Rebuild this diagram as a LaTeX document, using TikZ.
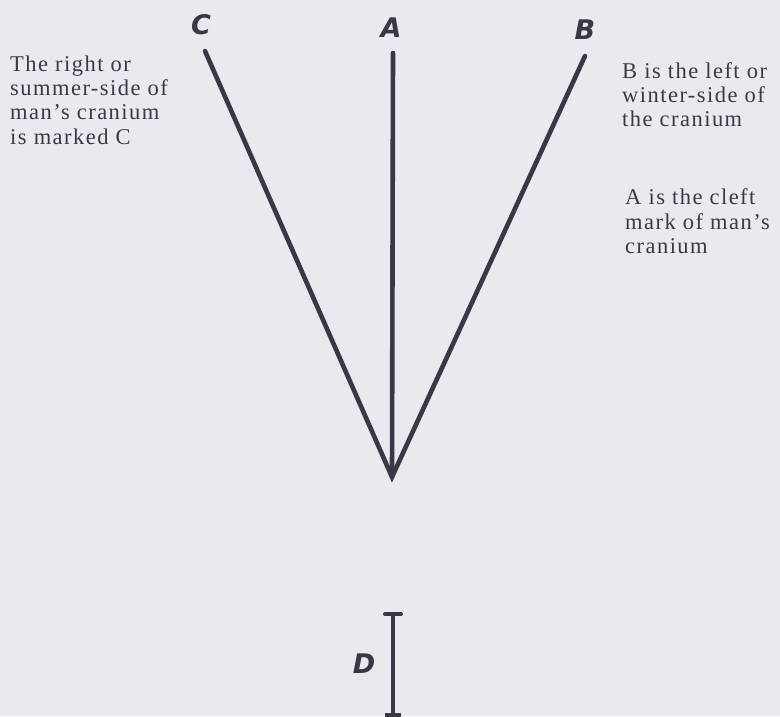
\documentclass[tikz,border=0pt]{standalone}
\usepackage{fontspec}
\newfontfamily\labfont{DejaVu Sans}
\newfontfamily\notefont[LetterSpace=6.5]{Liberation Serif}
\definecolor{bg}{HTML}{E9EAEE}
\definecolor{ink}{HTML}{383846}
\definecolor{txt}{HTML}{3A3A46}
\begin{document}
\begin{tikzpicture}[x=1pt,y=-1pt,
  stroke/.style={draw=ink,line width=4.6pt,line cap=round},
  letter/.style={text=ink,font=\labfont\bfseries\itshape\fontsize{27}{27}\selectfont,inner sep=0pt},
  note/.style={text=txt,font=\notefont\fontsize{22.5}{24.3}\selectfont,align=left,inner sep=0pt,anchor=north west}]
\useasboundingbox[fill=bg] (0,0) rectangle (780,716);
\coordinate (cTop) at (205,51);
\coordinate (aTop) at (393,53);
\coordinate (bTop) at (585,56);
\coordinate (V) at (392,477);
\draw[stroke] (cTop) -- (V) -- (bTop);
\draw[stroke] (aTop) -- (V);
\node[letter] (C) at (201,25) {C};
\node[letter] (A) at (391,28) {A};
\node[letter] (B) at (585,30) {B};
% D bar
\coordinate (dTop) at (393,614);
\coordinate (dBot) at (393,715);
\draw[draw=ink,line width=4.4pt] (dTop) -- (dBot);
\draw[draw=ink,line width=4pt,line cap=round] ([xshift=-8]dTop) -- ([xshift=8]dTop);
\draw[draw=ink,line width=3.4pt] ([xshift=-8]dBot) -- ([xshift=8]dBot);
\node[letter] (D) at (364,664) {D};
\node[note] (left) at (10,55.3) {The right or\\summer-side of\\man’s cranium\\is marked C};
\node[note] (right1) at (622,62.3) {B is the left or\\winter-side of\\the cranium};
\node[note] (right2) at (625,188.9) {A is the cleft\\mark of man’s\\cranium};
\end{tikzpicture}
\end{document}
